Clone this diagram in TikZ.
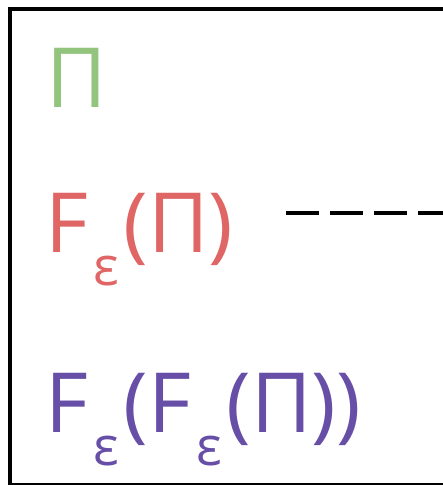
\documentclass[tikz,border=0pt]{standalone}
\usepackage{fontspec}
\setmainfont{Open Sans}
\definecolor{pgreen}{HTML}{93C47D}
\definecolor{pred}{HTML}{E06666}
\definecolor{ppurple}{HTML}{674EA7}
\newcommand{\bigtxt}{\fontsize{83}{83}\selectfont}
\newcommand{\subeps}{\hspace{5pt}\raisebox{-33pt}{\fontsize{54}{54}\selectfont ε}\hspace{5pt}}
\begin{document}
\begin{tikzpicture}[x=1pt,y=1pt,
  lbl/.style={anchor=base west,inner sep=0pt,font=\bigtxt}]
\useasboundingbox (0,0) rectangle (443,-485);
\clip (0,0) rectangle (443,-485);
\draw[line width=4pt] (9.5,-8.5) rectangle (470,-484.5);
\node[lbl,text=pgreen] (pi) at (46,-107) {Π};
\node[lbl,text=pred] (fpi) at (45,-252) {F\subeps(Π)};
\node[lbl,text=ppurple] (ffpi) at (45,-432) {F\subeps(F\subeps(Π))};
\coordinate (ds) at (286,-213);
\coordinate (de) at (470,-213);
\draw[line width=4pt,dash pattern=on 33pt off 11pt] (ds) -- (de);
\end{tikzpicture}
\end{document}
